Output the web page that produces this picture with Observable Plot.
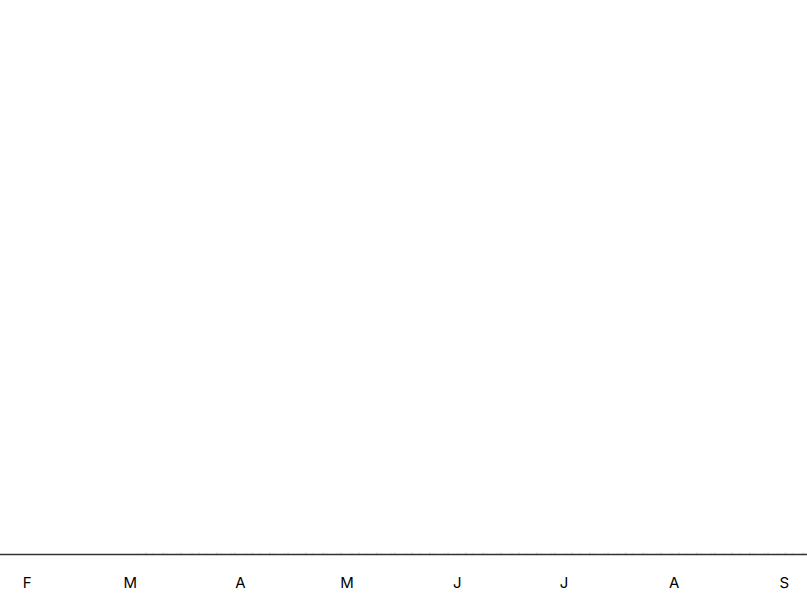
<!DOCTYPE html>
<html><head><meta charset="utf-8">
<script src="https://cdn.jsdelivr.net/npm/d3@7"></script>
<script src="https://cdn.jsdelivr.net/npm/@observablehq/plot@0.6"></script>
<style>body{margin:0;background:#fff;font-family:Inter,"Open Sans",sans-serif}</style>
</head><body><div id="chart"></div>
<script>
const startDate = "2020-02-28";
// daily values (Feb 28 .. Sep 7), all tiny relative to the axis
const febValues = [1.2, 1.4];
const marValues = [1.4,1.2,1.6,1.4,1.8,1.2,1.6,1.4,1.2,1.8,1.6,1.4,1.2,1.6,1.8,1.4,1.2,1.6,1.4,1.8,1.2,1.6,1.4,1.2,1.8,1.6,1.4,1.2,1.6,1.8,1.4];
const aprValues = [1.2,1.6,1.4,1.8,1.2,1.6,1.4,1.2,1.8,1.6,1.4,1.2,1.6,1.8,1.4,1.2,1.6,1.4,1.8,1.2,1.6,1.4,1.2,1.8,1.6,1.4,1.2,1.6,1.8,1.4];
const mayValues = [1.2,1.6,1.4,1.8,1.2,1.6,1.4,1.2,1.8,1.6,1.4,1.2,1.6,1.8,1.4,1.2,1.6,1.4,1.8,1.2,1.6,1.4,1.2,1.8,1.6,1.4,1.2,1.6,1.8,1.4,1.2];
const junValues = [1.6,1.4,1.8,1.2,1.6,1.4,1.2,1.8,1.6,1.4,1.2,1.6,1.8,1.4,1.2,1.6,1.4,1.8,1.2,1.6,1.4,1.2,1.8,1.6,1.4,1.2,1.6,1.8,1.4,1.2];
const julValues = [1.6,1.4,1.8,1.2,1.6,1.4,1.2,1.8,1.6,1.4,1.2,1.6,1.8,1.4,1.2,1.6,1.4,1.8,1.2,1.6,1.4,1.2,1.8,1.6,1.4,1.2,1.6,1.8,1.4,1.2,1.6];
const augValues = [1.4,1.8,1.2,1.6,1.4,1.2,1.8,1.6,1.4,1.2,1.6,1.8,1.4,1.2,1.6,1.4,1.8,1.2,1.6,1.4,1.2,1.8,1.6,1.4,1.2,1.6,1.8,1.4,1.2,1.6,1.4];
const sepValues = [1.8,1.2,1.6,1.4,1.2,1.8,1.6];

const monthTicks = ["2020-02-01","2020-03-01","2020-04-01","2020-05-01","2020-06-01","2020-07-01","2020-08-01","2020-09-01"];
const monthLabels = ["F","M","A","M","J","J","A","S"];
const xDomain = ["2020-01-24T12:00:00Z","2020-09-07T12:00:00Z"];
const yDomain = [0, 550];

const allValues = [...febValues, ...marValues, ...aprValues, ...mayValues, ...junValues, ...julValues, ...augValues, ...sepValues];
const t0 = new Date(startDate + "T00:00:00Z");
const data = allValues.map((v, i) => ({date: d3.utcDay.offset(t0, i), value: v}));
const tickDates = monthTicks.map(d => new Date(d + "T00:00:00Z"));

const chart = Plot.plot({
  width: 807,
  height: 610,
  marginTop: 0,
  marginLeft: 0,
  marginRight: 0,
  marginBottom: 56,
  style: {fontFamily: "Inter, 'Open Sans', sans-serif", fontSize: "15px", fontWeight: 400, color: "#000", background: "#fff"},
  x: {
    type: "utc",
    domain: xDomain.map(d => new Date(d)),
    ticks: tickDates,
    tickFormat: d => monthLabels[tickDates.findIndex(t => +t === +d)],
    tickSize: 0,
    tickPadding: 23,
    label: null
  },
  y: {domain: yDomain, axis: null},
  marks: [
    Plot.rectY(data, {x: "date", interval: "day", y: "value", fill: "#a99be0", inset: 0.7}),
    Plot.ruleY([0], {stroke: "#333", strokeWidth: 1.6})
  ]
});
document.getElementById("chart").append(chart);
</script>
</body></html>
